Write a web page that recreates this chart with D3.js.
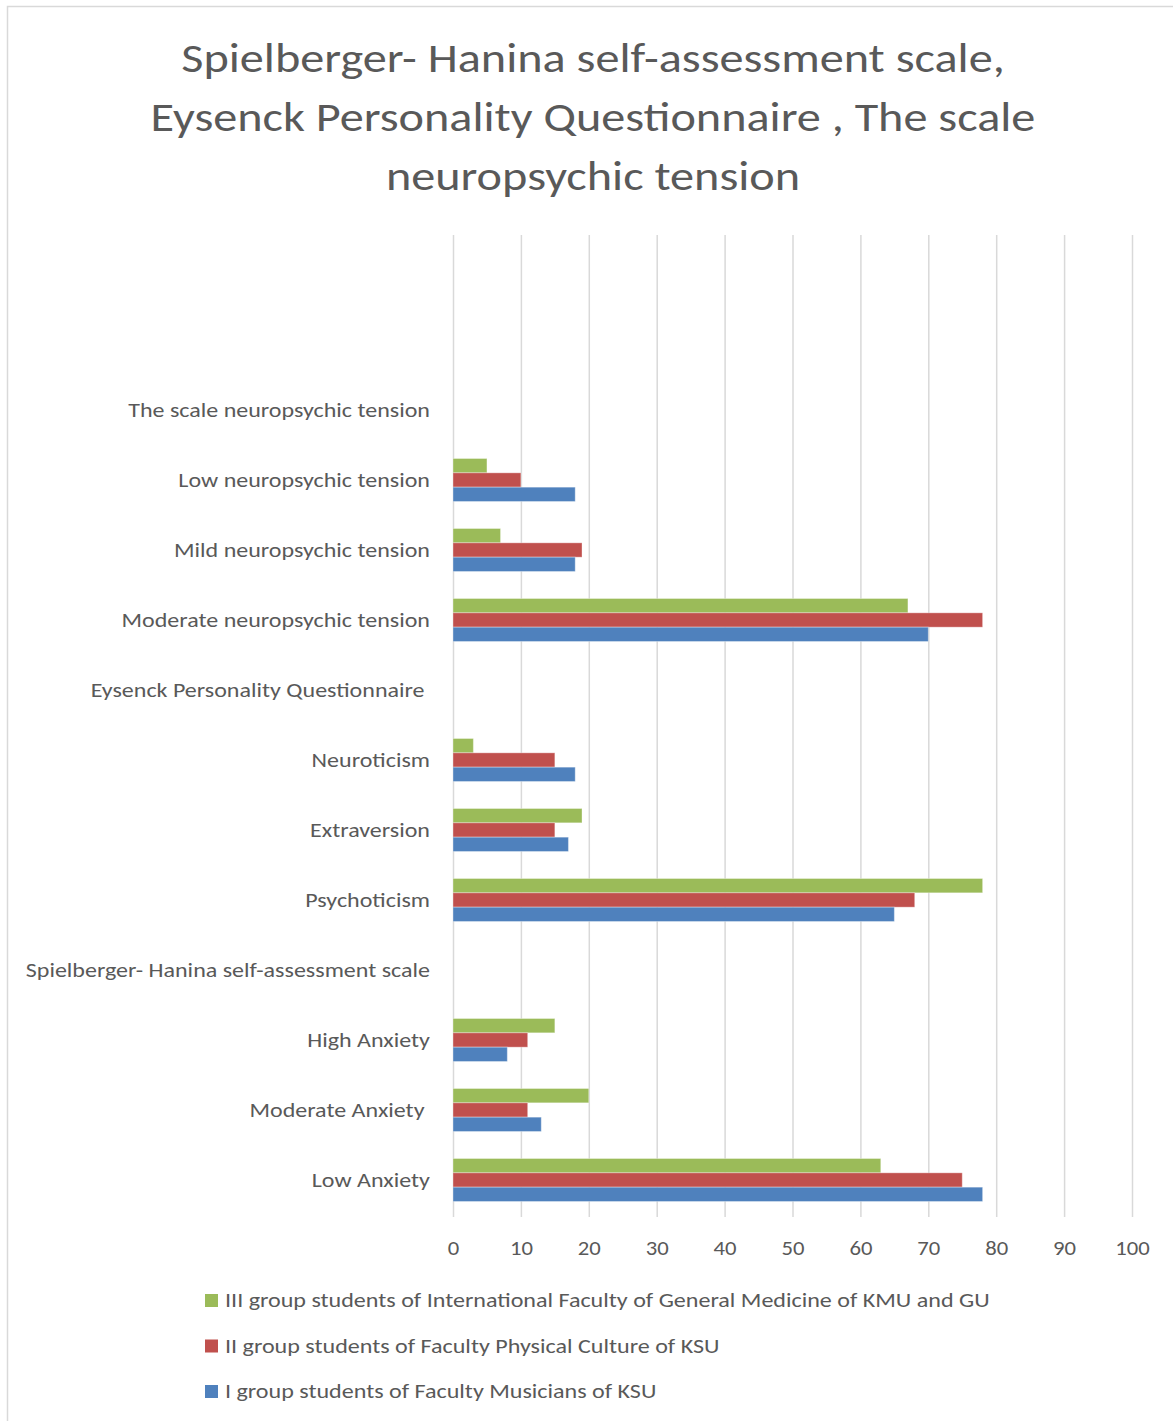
<!DOCTYPE html>
<html>
<head>
<meta charset="utf-8">
<script src="https://cdn.jsdelivr.net/npm/d3@7"></script>
<style>
  body { margin: 0; background: #fff; }
  svg text { font-family: Carlito, Calibri, Lato, sans-serif; fill: #595959; white-space: pre; }
</style>
</head>
<body>
<div id="container"></div>
<script>
var w = 1173,
  h = 1421;

// categories listed bottom to top, as the chart draws them
var categories = [
  "Low Anxiety",
  "Moderate Anxiety ",
  "High Anxiety",
  "Spielberger- Hanina self-assessment scale",
  "Psychoticism",
  "Extraversion",
  "Neuroticism",
  "Eysenck Personality Questionnaire ",
  "Moderate neuropsychic tension",
  "Mild neuropsychic tension",
  "Low neuropsychic tension",
  "The scale neuropsychic tension",
  "",
  ""
];

var groupI = [78, 13, 8, null, 65, 17, 18, null, 70, 18, 18, null, null, null];
var groupII = [75, 11, 11, null, 68, 15, 15, null, 78, 19, 10, null, null, null];
var groupIII = [63, 20, 15, null, 78, 19, 3, null, 67, 7, 5, null, null, null];

var seriesNames = [
  "III group students of International Faculty of General Medicine of KMU and GU",
  "II group students of Faculty Physical Culture of KSU",
  "I group students of Faculty Musicians of KSU"
];
var seriesValues = [groupIII, groupII, groupI];
var seriesColors = ["#9bbb59", "#c0504d", "#4f81bd"];

var titleLines = [
  "Spielberger- Hanina self-assessment scale,",
  "Eysenck Personality Questionnaire , The scale",
  "neuropsychic tension"
];

var xTicks = [0, 10, 20, 30, 40, 50, 60, 70, 80, 90, 100];

// Lato is narrower than Calibri, so widen the glyphs a bit
function widen(sel, k) {
  sel.each(function () {
    var len = this.getComputedTextLength();
    if (len > 0) {
      d3.select(this)
        .attr("textLength", len * k)
        .attr("lengthAdjust", "spacingAndGlyphs");
    }
  });
}

var svg = d3.select("#container").append("svg")
  .attr("width", w)
  .attr("height", h);

// chart area border
svg.append("rect")
  .attr("x", 7.5)
  .attr("y", 6.5)
  .attr("width", w + 10)
  .attr("height", h + 10)
  .attr("fill", "#fff")
  .attr("stroke", "#d9d9d9")
  .attr("stroke-width", 1.5);

var title = svg.append("g");
title.selectAll("text")
  .data(titleLines)
  .enter()
  .append("text")
  .attr("x", 593)
  .attr("y", (d, i) => 72 + i * 59)
  .attr("text-anchor", "middle")
  .style("font-size", "42px")
  .text(d => d)
  .call(widen, 1.148);

var x = d3.scaleLinear()
  .domain([0, 100])
  .range([453, 1132]);

var y = d3.scaleBand()
  .domain(d3.range(categories.length))
  .range([1215, 235]);

var y1 = d3.scaleBand()
  .domain(d3.range(seriesNames.length))
  .range([-21.5, 21.5]);

// gridlines + tick labels
var axis = svg.append("g")
  .attr("transform", "translate(0,1217)")
  .call(d3.axisBottom(x)
    .tickValues(xTicks)
    .tickSize(-982)
    .tickFormat(d => d));

axis.select(".domain").remove();
axis.selectAll(".tick line")
  .attr("stroke", "#d9d9d9")
  .attr("stroke-width", 1.5);
axis.selectAll(".tick text")
  .attr("y", 38)
  .attr("dy", null)
  .style("font-size", "21px")
  .call(widen, 1.08);

// category labels
svg.append("g")
  .selectAll("text")
  .data(categories)
  .enter()
  .append("text")
  .attr("x", 430)
  .attr("y", (d, i) => y(i) + y.bandwidth() / 2 + 7)
  .attr("text-anchor", "end")
  .style("font-size", "21px")
  .text(d => d)
  .call(widen, 1.144);

// bars
var series = svg.append("g")
  .selectAll("g")
  .data(seriesValues)
  .enter()
  .append("g")
  .attr("fill", (d, i) => seriesColors[i]);

series.each(function (vals, si) {
  d3.select(this)
    .selectAll("rect")
    .data(vals.map((v, ci) => ({ v: v, ci: ci })).filter(d => d.v !== null))
    .enter()
    .append("rect")
    .attr("x", x(0))
    .attr("y", d => y(d.ci) + y.bandwidth() / 2 + y1(si))
    .attr("width", d => x(d.v) - x(0))
    .attr("height", y1.bandwidth())
    .attr("stroke", "#fff")
    .attr("stroke-opacity", 0.35)
    .attr("stroke-width", 1);
});

// legend
var legend = svg.append("g")
  .selectAll("g")
  .data(seriesNames)
  .enter()
  .append("g")
  .attr("transform", (d, i) => "translate(205," + (1307 + i * 45.5) + ")");

legend.append("rect")
  .attr("x", 0)
  .attr("y", -13)
  .attr("width", 13)
  .attr("height", 13)
  .attr("fill", (d, i) => seriesColors[i]);

legend.append("text")
  .attr("x", 20)
  .attr("y", 0)
  .style("font-size", "21px")
  .text(d => d)
  .call(widen, 1.146);
</script>
</body>
</html>
